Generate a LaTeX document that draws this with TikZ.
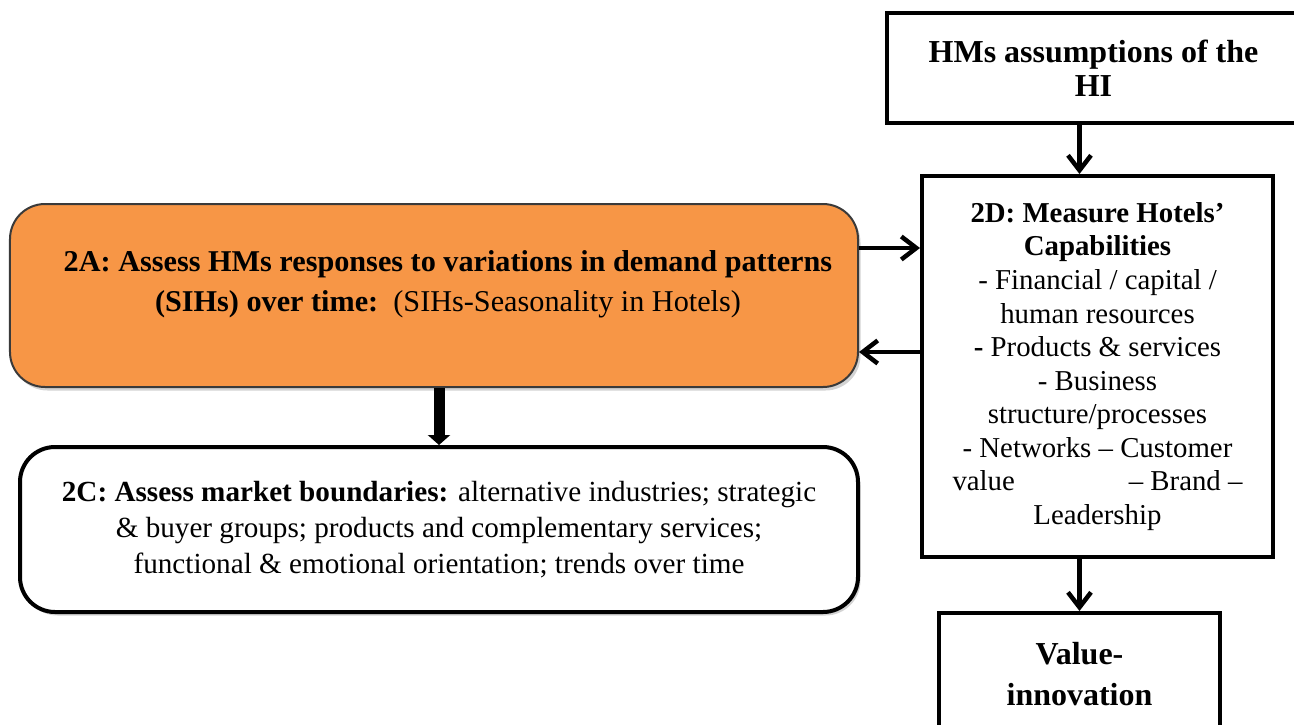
\documentclass[tikz,border=0pt]{standalone}
\usepackage{fontspec}
\setmainfont{Liberation Serif}
\usetikzlibrary{positioning,arrows.meta,calc,shadows}
\definecolor{sihorange}{HTML}{F79646}
\definecolor{sihedge}{HTML}{3A3A3A}

\begin{document}
\begin{tikzpicture}[
    box/.style={draw, line width=0.08cm, align=center, inner sep=0pt},
    roundbox/.style={draw, rounded corners=0.7cm, align=center, inner sep=0pt,
      drop shadow={shadow xshift=0.05cm, shadow yshift=-0.07cm, opacity=0.35}},
    arr/.style={line width=0.09cm, -{Straight Barb[length=0.3cm, width=0.46cm]}},
    fatarr/.style={line width=0.22cm, -{Triangle[length=0.2cm, width=0.44cm]}}]
  \useasboundingbox (0,0) rectangle (25.88,-14.48);

  % right column
  \node[box, minimum width=8.26cm, minimum height=2.2cm,
    font=\fontsize{18.2}{19.3}\selectfont\bfseries] (hms) at (21.87,-1.36)
    {HMs assumptions of the\\HI};
  \node[box, minimum width=7.02cm, minimum height=7.62cm,
    font=\fontsize{16.4}{19.1}\selectfont] (msr) at (21.95,-7.33)
    {\textbf{2D: Measure Hotels’}\\
     \textbf{Capabilities}\\
     - Financial / capital /\\
     human resources\\
     \textbf{-} Products \& services\\
     - Business\\
     structure/processes\\
     - Networks – Customer\\
     \makebox[5.8cm]{value\hfill– Brand –}\\
     Leadership};
  \node[box, minimum width=5.62cm, minimum height=2.44cm,
    font=\fontsize{18.2}{23.8}\selectfont\bfseries] (val) at (21.59,-13.48)
    {Value-\\innovation};

  % left column
  \node[roundbox, fill=sihorange, draw=sihedge, line width=0.04cm,
    minimum width=16.96cm, minimum height=3.66cm] (sih) at (8.68,-5.91) {};
  \node[align=center, font=\fontsize{17.2}{22.7}\selectfont] (sihtxt) at (8.96,-5.68)
    {\textbf{2A: Assess HMs responses to variations in demand patterns}\\
     \textbf{(SIHs) over time:}\ \ (SIHs-Seasonality in Hotels)};
  \node[roundbox, fill=white, line width=0.08cm,
    minimum width=16.76cm, minimum height=3.3cm,
    font=\fontsize{16.6}{20.4}\selectfont] (mkt) at (8.78,-10.59)
    {\textbf{2C: Assess market boundaries:} alternative industries; strategic\\
     \& buyer groups; products and complementary services;\\
     functional \& emotional orientation; trends over time};

  % connectors
  \draw[arr] (hms.south -| val.north) -- (msr.north -| val.north);
  \draw[arr] (msr.south -| val.north) -- (val.north);
  \draw[arr] ([yshift=0.95cm]sih.east) -- ([yshift=0.95cm]sih.east -| msr.west);
  \draw[arr] ([yshift=-1.13cm]sih.east -| msr.west) -- ([yshift=-1.13cm]sih.east);
  \draw[fatarr] (sih.south -| mkt.north) -- (mkt.north);
\end{tikzpicture}
\end{document}
